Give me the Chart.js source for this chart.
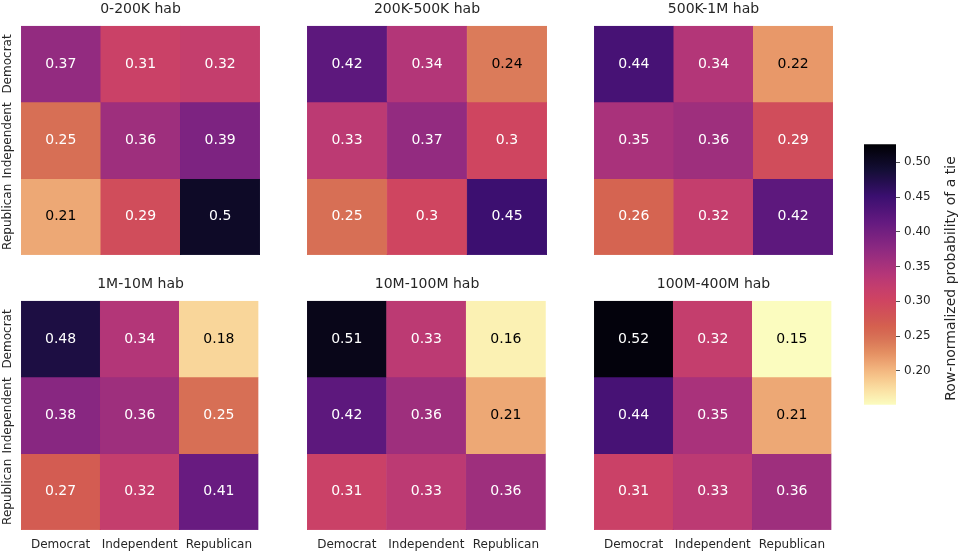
<!DOCTYPE html>
<html>
<head>
<meta charset="utf-8">
<title>Row-normalized probability of a tie</title>
<script src="https://cdn.jsdelivr.net/npm/chart.js@4.4.0/dist/chart.umd.min.js"></script>
<style>
  body { margin: 0; background: #fff; }
  #wrap { position: relative; width: 962px; height: 552px; }
  #wrap canvas { position: absolute; }
</style>
</head>
<body>
<div id="wrap"></div>
<script>
// categories (rows and columns of every panel)
const parties = ['Democrat', 'Independent', 'Republican'];
const panelTitles = ['0-200K hab', '200K-500K hab', '500K-1M hab', '1M-10M hab', '10M-100M hab', '100M-400M hab'];

// values per panel, one array per row (Democrat, Independent, Republican)
const hab0to200K = [[0.37, 0.31, 0.32], [0.25, 0.36, 0.39], [0.21, 0.29, 0.5]];
const hab200Kto500K = [[0.42, 0.34, 0.24], [0.33, 0.37, 0.3], [0.25, 0.3, 0.45]];
const hab500Kto1M = [[0.44, 0.34, 0.22], [0.35, 0.36, 0.29], [0.26, 0.32, 0.42]];
const hab1Mto10M = [[0.48, 0.34, 0.18], [0.38, 0.36, 0.25], [0.27, 0.32, 0.41]];
const hab10Mto100M = [[0.51, 0.33, 0.16], [0.42, 0.36, 0.21], [0.31, 0.33, 0.36]];
const hab100Mto400M = [[0.52, 0.32, 0.15], [0.44, 0.35, 0.21], [0.31, 0.33, 0.36]];

// colorbar
const cbTicks = [0.20, 0.25, 0.30, 0.35, 0.40, 0.45, 0.50];
const cbMin = 0.151;
const cbMax = 0.526;
const cbLabel = 'Row-normalized probability of a tie';

const panels = [hab0to200K, hab200Kto500K, hab500Kto1M, hab1Mto10M, hab10Mto100M, hab100Mto400M];

const FONT = "'DejaVu Sans', sans-serif";
const TEXT = '#262626';

// matplotlib magma, sampled every 0.1
const magma = ['#000004', '#140e36', '#3b0f70', '#641a80', '#8c2981', '#b73779',
               '#de4968', '#f7705c', '#fe9f6d', '#fecf92', '#fcfdbf'];

function hexRgb(h) {
  return [parseInt(h.slice(1, 3), 16), parseInt(h.slice(3, 5), 16), parseInt(h.slice(5, 7), 16)];
}

function magmaAt(t, stock) {
  t = Math.max(0, Math.min(1, t));
  const s = t * 10;
  const i = Math.min(9, Math.floor(s));
  const f = s - i;
  const a = hexRgb(magma[i]), b = hexRgb(magma[i + 1]);
  // the picture's oranges are a little duller than the stock map
  const dim = stock ? 1 : 1 - 0.14 * Math.exp(-Math.pow((t - 0.72) / 0.14, 2));
  return a.map((c, k) => Math.round((c + (b[k] - c) * f) * dim));
}

// reversed map: low values light, high values dark
function cellRgb(v, stock) {
  return magmaAt(1 - (v - cbMin) / (cbMax - cbMin), stock);
}

function rgbStr(c) {
  return 'rgb(' + c.join(',') + ')';
}

function luminance(rgb) {
  const lin = rgb.map(c => {
    c = c / 255;
    return c <= 0.03928 ? c / 12.92 : Math.pow((c + 0.055) / 1.055, 2.4);
  });
  return 0.2126 * lin[0] + 0.7152 * lin[1] + 0.0722 * lin[2];
}

// writes the value inside each cell
const cellText = {
  id: 'cellText',
  afterDatasetsDraw(chart) {
    const ctx = chart.ctx;
    ctx.save();
    ctx.font = '14px ' + FONT;
    ctx.textAlign = 'center';
    ctx.textBaseline = 'middle';
    chart.data.datasets.forEach((ds, i) => {
      chart.getDatasetMeta(i).data.forEach((bar, j) => {
        const v = ds.data[j].v;
        ctx.fillStyle = luminance(cellRgb(v, true)) > 0.38 ? '#000' : '#fff';
        ctx.fillText(String(v), bar.x, (bar.y + bar.base) / 2);
      });
    });
    ctx.restore();
  }
};

// rotated row names on the left of the first column
const rowNames = {
  id: 'rowNames',
  afterDraw(chart, args, opts) {
    if (!opts.show) return;
    const ctx = chart.ctx;
    const ys = chart.scales.y;
    ctx.save();
    ctx.font = '12px ' + FONT;
    ctx.fillStyle = TEXT;
    ctx.textAlign = 'center';
    ctx.textBaseline = 'middle';
    parties.forEach((p, i) => {
      ctx.save();
      ctx.translate(8, ys.getPixelForValue(i + 0.5));
      ctx.rotate(-Math.PI / 2);
      ctx.fillText(p, 0, 0);
      ctx.restore();
    });
    ctx.restore();
  }
};

const wrap = document.getElementById('wrap');
const colLeft = [0, 307, 594];
const colWidth = [260, 240, 239];
const rowTop = [0, 275];
const rowHeight = [255, 277];

panels.forEach((vals, p) => {
  const r = Math.floor(p / 3), c = p % 3;
  const cv = document.createElement('canvas');
  cv.style.left = colLeft[c] + 'px';
  cv.style.top = rowTop[r] + 'px';
  cv.style.width = colWidth[c] + 'px';
  cv.style.height = rowHeight[r] + 'px';
  cv.width = colWidth[c];
  cv.height = rowHeight[r];
  wrap.appendChild(cv);

  const datasets = vals.map((row, i) => ({
    data: row.map((v, j) => ({ x: parties[j], y: [i, i + 1], v: v })),
    backgroundColor: row.map(v => rgbStr(cellRgb(v))),
    borderColor: row.map(v => rgbStr(cellRgb(v))),
    borderWidth: 0.5,
    borderSkipped: false,
    barPercentage: 1,
    categoryPercentage: 1,
    grouped: false
  }));

  const xScale = {
    type: 'category',
    display: r === 1,
    offset: true,
    grid: { display: false, drawTicks: false },
    border: { display: false },
    ticks: { font: { family: FONT, size: 12 }, color: TEXT, padding: 8, maxRotation: 0 }
  };
  if (r === 1) xScale.afterFit = s => { s.height = 22; };

  new Chart(cv, {
    type: 'bar',
    data: { labels: parties, datasets: datasets },
    options: {
      responsive: false,
      animation: false,
      events: [],
      layout: { padding: { left: c === 0 ? 21 : 0, right: 0, top: 0, bottom: 0 } },
      scales: {
        x: xScale,
        y: {
          type: 'linear',
          display: false,
          min: 0,
          max: 3,
          reverse: true
        }
      },
      plugins: {
        legend: { display: false },
        tooltip: { enabled: false },
        title: {
          display: true,
          text: panelTitles[p],
          color: TEXT,
          font: { family: FONT, size: 14, weight: 'normal' },
          padding: { top: 1, bottom: 8 }
        },
        rowNames: { show: c === 0 }
      }
    },
    plugins: [cellText, rowNames]
  });
});

// colorbar
const cbLabelPlugin = {
  id: 'cbLabelPlugin',
  afterDraw(chart) {
    const ctx = chart.ctx;
    const a = chart.chartArea;
    ctx.save();
    ctx.font = '14px ' + FONT;
    ctx.fillStyle = TEXT;
    ctx.textAlign = 'center';
    ctx.textBaseline = 'middle';
    ctx.translate(87, (a.top + a.bottom) / 2 + 4);
    ctx.rotate(-Math.PI / 2);
    ctx.fillText(cbLabel, 0, 0);
    ctx.restore();
  }
};

const cb = document.createElement('canvas');
cb.style.left = '864px';
cb.style.top = '133px';
cb.style.width = '98px';
cb.style.height = '283px';
cb.width = 98;
cb.height = 283;
wrap.appendChild(cb);

new Chart(cb, {
  type: 'bar',
  data: {
    labels: [''],
    datasets: [{
      data: [[cbMin, cbMax]],
      backgroundColor: ctx => {
        const area = ctx.chart.chartArea;
        if (!area) return magma[5];
        const g = ctx.chart.ctx.createLinearGradient(0, area.bottom, 0, area.top);
        for (let k = 0; k <= 40; k++) g.addColorStop(k / 40, rgbStr(magmaAt(1 - k / 40)));
        return g;
      },
      borderWidth: 0,
      borderSkipped: false,
      barPercentage: 1,
      categoryPercentage: 1
    }]
  },
  options: {
    responsive: false,
    animation: false,
    events: [],
    layout: { padding: { top: 10, bottom: 10, left: 0, right: 0 } },
    scales: {
      x: { display: false },
      y: {
        position: 'right',
        min: cbMin,
        max: cbMax,
        afterBuildTicks: s => { s.ticks = cbTicks.map(v => ({ value: v })); },
        afterFit: s => { s.width = 66; },
        grid: { drawOnChartArea: false, drawTicks: true, tickLength: 4, color: TEXT, lineWidth: 0.8 },
        border: { display: false },
        ticks: {
          font: { family: FONT, size: 12 },
          color: TEXT,
          padding: 4,
          callback: v => v.toFixed(2)
        }
      }
    },
    plugins: { legend: { display: false }, tooltip: { enabled: false } }
  },
  plugins: [cbLabelPlugin]
});
</script>
</body>
</html>
